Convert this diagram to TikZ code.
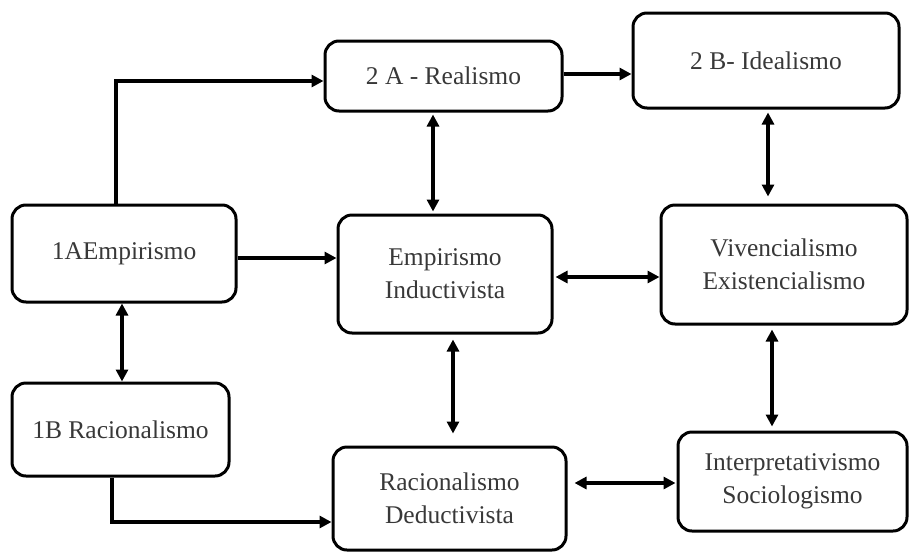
\documentclass[tikz,border=0pt]{standalone}
\usepackage{fontspec}
\setmainfont{Liberation Serif}
\usetikzlibrary{arrows.meta}
\begin{document}
\begin{tikzpicture}[x=1pt,y=-1pt,
  box/.style={draw, line width=3pt, rounded corners=14pt, align=center,
    font=\fontsize{25.5}{33}\selectfont, text=black!78, inner sep=0pt},
  conn/.style={line width=3.2pt, -{Triangle[length=12pt,width=12pt]}},
  dconn/.style={line width=3.2pt, {Triangle[length=12pt,width=12pt]}-{Triangle[length=12pt,width=12pt]}}]
\useasboundingbox (0,0) rectangle (909,552);

\node[box, minimum width=237pt, minimum height=70pt]  (real)   at (443.5,76)  {2 A - Realismo};
\node[box, minimum width=266pt, minimum height=95pt]  (ideal)  at (766,60.5)  {2 B- Idealismo};
\node[box, minimum width=224pt, minimum height=97pt]  (emp1a)  at (124,253.5) {1AEmpirismo};
\node[box, minimum width=214pt, minimum height=118pt] (empind) at (445,274)   {Empirismo\\Inductivista};
\node[box, minimum width=246pt, minimum height=119pt] (viv)    at (784,264.5) {Vivencialismo\\Existencialismo};
\node[box, minimum width=217pt, minimum height=93pt]  (rac1b)  at (120.5,429.5) {1B Racionalismo};
\node[box, minimum width=233pt, minimum height=103pt] (ded)    at (449.5,498.5) {Racionalismo\\Deductivista};
\node[box, minimum width=229pt, minimum height=99pt]  (interp) at (792.5,481.5) {Interpretativismo\\Sociologismo};

% 1A -> 2A
\draw[conn] ([xshift=-8pt]emp1a.north) |- ([yshift=-5pt]real.west);
% 1A -> Empirismo Inductivista
\coordinate (e1) at ([yshift=-4.5pt]emp1a.east);
\draw[conn] (e1) -- (e1 -| empind.west);
% 2A <-> Empirismo Inductivista
\coordinate (r2) at ([xshift=-10.5pt]real.south);
\draw[dconn, shorten <=2pt, shorten >=2pt] (r2) -- (r2 |- empind.north);
% 2A -> 2B
\coordinate (r1) at ([yshift=2pt]real.east);
\draw[conn] (r1) -- (r1 -| ideal.west);
% 2B <-> Vivencialismo
\coordinate (i1) at ([xshift=2pt]ideal.south);
\draw[dconn, shorten <=3pt, shorten >=7pt] (i1) -- (i1 |- viv.north);
% Empirismo Inductivista <-> Vivencialismo
\coordinate (e2) at ([yshift=-3pt]empind.east);
\draw[dconn, shorten <=2pt] (e2) -- (e2 -| viv.west);
% 1A <-> 1B
\coordinate (a1) at ([xshift=-2pt]emp1a.south);
\draw[dconn] (a1) -- (a1 |- rac1b.north);
% Empirismo Inductivista <-> Racionalismo Deductivista
\coordinate (e3) at ([xshift=8pt]empind.south);
\draw[dconn, shorten <=5pt, shorten >=12pt] (e3) -- (e3 |- ded.north);
% 1B -> Racionalismo Deductivista
\draw[conn] ([xshift=-8.5pt]rac1b.south) |- ([yshift=-23.5pt]ded.west);
% Racionalismo Deductivista <-> Interpretativismo
\coordinate (d1) at ([yshift=15.5pt]ded.east);
\draw[dconn, shorten <=7pt, shorten >=1pt] (d1) -- (d1 -| interp.west);
% Vivencialismo <-> Interpretativismo
\coordinate (v1) at ([xshift=-12pt]viv.south);
\draw[dconn, shorten <=4pt, shorten >=4pt] (v1) -- (v1 |- interp.north);
\end{tikzpicture}
\end{document}
